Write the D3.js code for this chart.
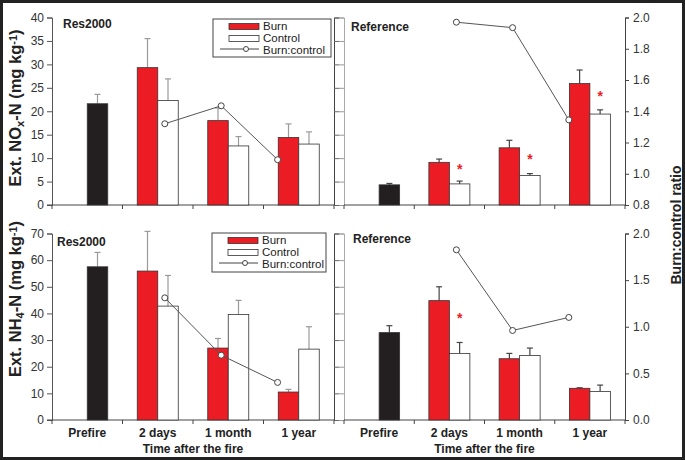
<!DOCTYPE html>
<html>
<head>
<meta charset="utf-8">
<script src="https://cdn.jsdelivr.net/npm/d3@7"></script>
<style>
body { margin: 0; background: #fff; }
svg { display: block; font-family: "Liberation Sans", Arial, sans-serif; }
</style>
</head>
<body>
<svg id="chart" width="685" height="460"></svg>
<script>
// data
var categories = ["Prefire", "2 days", "1 month", "1 year"];
var treated = ["2 days", "1 month", "1 year"];

// NOx, Res2000
var noxResPrefire = [21.6, 2.0];
var noxResBurn = [29.3, 18.0, 14.4];
var noxResBurnSe = [6.2, 2.7, 2.9];
var noxResControl = [22.3, 12.6, 13.0];
var noxResControlSe = [4.6, 2.0, 2.6];
var noxResRatio = [1.32, 1.435, 1.09];

// NOx, Reference
var noxRefPrefire = [4.3, 0.3];
var noxRefBurn = [9.1, 12.2, 25.9];
var noxRefBurnSe = [0.7, 1.6, 2.9];
var noxRefControl = [4.5, 6.3, 19.4];
var noxRefControlSe = [0.6, 0.4, 0.9];
var noxRefRatio = [1.97, 1.935, 1.345];
var noxRefStars = [8.0, 10.0, 23.5];

// NH4, Res2000
var nhResPrefire = [57.5, 5.4];
var nhResBurn = [55.9, 27.0, 10.5];
var nhResBurnSe = [14.9, 3.6, 1.0];
var nhResControl = [42.75, 39.6, 26.6];
var nhResControlSe = [11.5, 5.3, 8.4];
var nhResRatio = [1.31, 0.695, 0.403];

// NH4, Reference
var nhRefPrefire = [32.8, 2.6];
var nhRefBurn = [44.8, 23.0, 11.9];
var nhRefBurnSe = [5.2, 2.0, 0.2];
var nhRefControl = [25.0, 24.2, 10.7];
var nhRefControlSe = [4.1, 2.8, 2.4];
var nhRefRatio = [1.825, 0.96, 1.10];
var nhRefStars = [38.7, null, null];

var noxTicks = [0, 5, 10, 15, 20, 25, 30, 35, 40];
var nhTicks = [0, 10, 20, 30, 40, 50, 60, 70];
var ratioTicksTop = [0.8, 1.0, 1.2, 1.4, 1.6, 1.8, 2.0];
var ratioTicksBottom = [0.0, 0.5, 1.0, 1.5, 2.0];

var RED = "#ec1c24";
var BLACK = "#231f20";

var svg = d3.select("#chart");

// outer frame
svg.append("rect")
  .attr("x", 1.5).attr("y", 1.5)
  .attr("width", 682).attr("height", 457)
  .attr("fill", "#fff")
  .attr("stroke", "#222")
  .attr("stroke-width", 3);

function drawPanel(p) {
  var x = d3.scaleBand().domain(categories).range([p.x0, p.x1]);
  var xr = d3.scaleLinear().domain([0, 5]).range([p.x0, p.x1]);
  var y = d3.scaleLinear().domain([0, p.yMax]).range([p.yBot, p.yTop]);
  var yr = d3.scaleLinear().domain(p.ratioDomain).range([p.yBot, p.yTop]);
  var bw = 20.5;
  var g = svg.append("g");

  // left axis
  var la = g.append("g")
    .attr("transform", `translate(${p.x0},0)`)
    .call(d3.axisLeft(y).tickValues(p.yTicks).tickSize(5).tickPadding(3)
      .tickFormat(p.leftLabels ? d3.format("d") : ""));
  la.select(".domain").attr("stroke", p.leftLabels ? "#555" : "#aaa");
  la.selectAll(".tick line").attr("stroke", p.leftLabels ? "#555" : "#999");
  la.selectAll(".tick text").attr("font-size", 12).attr("fill", "#333")
    .attr("font-family", "Liberation Sans, Arial, sans-serif");

  // right axis
  if (p.rightLabels) {
    var ra = g.append("g")
      .attr("transform", `translate(${p.x1},0)`)
      .call(d3.axisRight(yr).tickValues(p.ratioTicks).tickSize(4).tickPadding(4)
        .tickFormat(d3.format(".1f")));
    ra.select(".domain").attr("stroke", "#444");
    ra.selectAll(".tick line").attr("stroke", "#444");
    ra.selectAll(".tick text").attr("font-size", 12).attr("fill", "#333")
      .attr("font-family", "Liberation Sans, Arial, sans-serif");
  } else {
    var ra2 = g.append("g")
      .attr("transform", `translate(${p.x1},0)`)
      .call(d3.axisRight(y).tickValues(p.yTicks).tickSize(5).tickFormat(""));
    ra2.select(".domain").attr("stroke", "#444");
    ra2.selectAll(".tick line").attr("stroke", "#666");
  }

  // bottom axis
  var edges = categories.map(c => x(c)).concat([p.x1]);
  g.append("line")
    .attr("x1", p.x0 - (p.leftLabels ? 5 : 0)).attr("x2", p.x1)
    .attr("y1", p.yBot).attr("y2", p.yBot)
    .attr("stroke", "#444");
  g.selectAll(".xt").data(edges).enter().append("line")
    .attr("x1", d => d).attr("x2", d => d)
    .attr("y1", p.yBot).attr("y2", p.yBot + 4)
    .attr("stroke", "#444");

  var errColor = p.leftLabels ? "#9a9a9a" : "#444";
  var barStroke = "#333";

  function errBar(cx, top, se) {
    g.append("line")
      .attr("x1", cx).attr("x2", cx)
      .attr("y1", y(top)).attr("y2", y(top + se))
      .attr("stroke", errColor).attr("stroke-width", 1.2);
    g.append("line")
      .attr("x1", cx - 3).attr("x2", cx + 3)
      .attr("y1", y(top + se)).attr("y2", y(top + se))
      .attr("stroke", errColor).attr("stroke-width", 1.2);
  }

  // prefire bar
  var px = x("Prefire") + x.bandwidth() / 2;
  errBar(px + bw / 2, p.prefire[0], p.prefire[1]);
  g.append("rect")
    .attr("x", px).attr("width", bw)
    .attr("y", y(p.prefire[0])).attr("height", p.yBot - y(p.prefire[0]))
    .attr("fill", BLACK).attr("stroke", barStroke).attr("stroke-width", 0.8);

  treated.forEach(function(c, i) {
    var cx = x(c) + x.bandwidth() / 2;
    errBar(cx - bw / 2, p.burn[i], p.burnSe[i]);
    errBar(cx + bw / 2, p.control[i], p.controlSe[i]);
    g.append("rect")
      .attr("x", cx - bw).attr("width", bw)
      .attr("y", y(p.burn[i])).attr("height", p.yBot - y(p.burn[i]))
      .attr("fill", RED).attr("stroke", barStroke).attr("stroke-width", 0.8);
    g.append("rect")
      .attr("x", cx).attr("width", bw)
      .attr("y", y(p.control[i])).attr("height", p.yBot - y(p.control[i]))
      .attr("fill", "#fff").attr("stroke", barStroke).attr("stroke-width", 0.8);
    if (p.stars && p.stars[i] != null) {
      g.append("text")
        .attr("x", cx + bw / 2).attr("y", y(p.stars[i]) + 6)
        .attr("text-anchor", "middle")
        .attr("font-size", 14).attr("font-weight", "bold")
        .attr("fill", RED)
        .text("*");
    }
  });

  // ratio line
  var pts = p.ratio.map((v, i) => [xr(i + 2), yr(v)]);
  g.append("path")
    .attr("d", d3.line()(pts))
    .attr("fill", "none").attr("stroke", "#555").attr("stroke-width", 1);
  g.selectAll(".pt").data(pts).enter().append("circle")
    .attr("cx", d => d[0]).attr("cy", d => d[1]).attr("r", 3)
    .attr("fill", "#fff").attr("stroke", "#444").attr("stroke-width", 1);

  // panel title
  g.append("text")
    .attr("x", p.titleX).attr("y", p.titleY)
    .attr("font-size", 12).attr("font-weight", "bold").attr("fill", "#222")
    .text(p.title);

  // category labels
  if (p.catLabels) {
    g.selectAll(".cl").data(categories).enter().append("text")
      .attr("x", d => x(d) + x.bandwidth() / 2)
      .attr("y", p.yBot + 17)
      .attr("text-anchor", "middle")
      .attr("font-size", 12).attr("font-weight", "bold").attr("fill", "#222")
      .text(d => d);
    g.append("text")
      .attr("x", (p.x0 + p.x1) / 2).attr("y", p.yBot + 33)
      .attr("text-anchor", "middle")
      .attr("font-size", 12).attr("font-weight", "bold").attr("fill", "#222")
      .text("Time after the fire");
  }

  // legend
  if (p.legend) {
    var L = p.legend;
    var lg = g.append("g").attr("transform", `translate(${L.x},${L.y})`);
    lg.append("rect").attr("width", L.w).attr("height", L.h)
      .attr("fill", "#fff").attr("stroke", "#444").attr("stroke-width", 1);
    lg.append("rect").attr("x", 16).attr("y", 4.5).attr("width", 30).attr("height", 6)
      .attr("fill", RED).attr("stroke", "#333").attr("stroke-width", 0.8);
    lg.append("rect").attr("x", 16).attr("y", 16.5).attr("width", 30).attr("height", 6)
      .attr("fill", "#fff").attr("stroke", "#333").attr("stroke-width", 0.8);
    lg.append("line").attr("x1", 7).attr("x2", 46).attr("y1", 30).attr("y2", 30)
      .attr("stroke", "#444");
    lg.append("circle").attr("cx", 33).attr("cy", 30).attr("r", 2.5)
      .attr("fill", "#fff").attr("stroke", "#444");
    ["Burn", "Control", "Burn:control"].forEach(function(t, i) {
      lg.append("text").attr("x", 50).attr("y", 11 + i * 12)
        .attr("font-size", 11.5).attr("fill", "#222").text(t);
    });
  }
}

var top0 = 17.5, top1 = 205;
var bot0 = 233.5, bot1 = 420;

drawPanel({
  x0: 52, x1: 334, yTop: top0, yBot: top1, yMax: 40, yTicks: noxTicks,
  ratioDomain: [0.8, 2.0], ratioTicks: ratioTicksTop,
  leftLabels: true, rightLabels: false, catLabels: false,
  prefire: noxResPrefire, burn: noxResBurn, burnSe: noxResBurnSe,
  control: noxResControl, controlSe: noxResControlSe, ratio: noxResRatio,
  title: "Res2000", titleX: 63, titleY: 28,
  legend: { x: 213, y: 19, w: 118, h: 38 }
});
drawPanel({
  x0: 344, x1: 625, yTop: top0, yBot: top1, yMax: 40, yTicks: noxTicks,
  ratioDomain: [0.8, 2.0], ratioTicks: ratioTicksTop,
  leftLabels: false, rightLabels: true, catLabels: false,
  prefire: noxRefPrefire, burn: noxRefBurn, burnSe: noxRefBurnSe,
  control: noxRefControl, controlSe: noxRefControlSe, ratio: noxRefRatio,
  stars: noxRefStars,
  title: "Reference", titleX: 351, titleY: 31
});
drawPanel({
  x0: 52, x1: 334, yTop: bot0, yBot: bot1, yMax: 70, yTicks: nhTicks,
  ratioDomain: [0, 2.0], ratioTicks: ratioTicksBottom,
  leftLabels: true, rightLabels: false, catLabels: true,
  prefire: nhResPrefire, burn: nhResBurn, burnSe: nhResBurnSe,
  control: nhResControl, controlSe: nhResControlSe, ratio: nhResRatio,
  title: "Res2000", titleX: 57, titleY: 246,
  legend: { x: 212, y: 233, w: 114, h: 39 }
});
drawPanel({
  x0: 344, x1: 625, yTop: bot0, yBot: bot1, yMax: 70, yTicks: nhTicks,
  ratioDomain: [0, 2.0], ratioTicks: ratioTicksBottom,
  leftLabels: false, rightLabels: true, catLabels: true,
  prefire: nhRefPrefire, burn: nhRefBurn, burnSe: nhRefBurnSe,
  control: nhRefControl, controlSe: nhRefControlSe, ratio: nhRefRatio,
  stars: nhRefStars,
  title: "Reference", titleX: 353, titleY: 243
});

// axis titles
function yTitle(cx, cy, parts) {
  var t = svg.append("text")
    .attr("transform", `translate(${cx},${cy}) rotate(-90)`)
    .attr("text-anchor", "middle")
    .attr("font-size", 16.5).attr("font-weight", "bold").attr("fill", "#222");
  parts.forEach(function(pt) {
    var s = t.append("tspan").text(pt[0]);
    if (pt[1] === "sub") s.attr("baseline-shift", "-25%").attr("font-size", 11);
    if (pt[1] === "sup") s.attr("baseline-shift", "40%").attr("font-size", 11);
  });
}
yTitle(21, 108, [["Ext. NO"], ["x", "sub"], ["-N (mg kg"], ["-1", "sup"], [")"]]);
yTitle(21, 299, [["Ext. NH"], ["4", "sub"], ["-N (mg kg"], ["-1", "sup"], [")"]]);

svg.append("text")
  .attr("transform", "translate(681,225) rotate(-90)")
  .attr("text-anchor", "middle")
  .attr("font-size", 14).attr("font-weight", "bold").attr("fill", "#222")
  .text("Burn:control ratio");
</script>
</body>
</html>
